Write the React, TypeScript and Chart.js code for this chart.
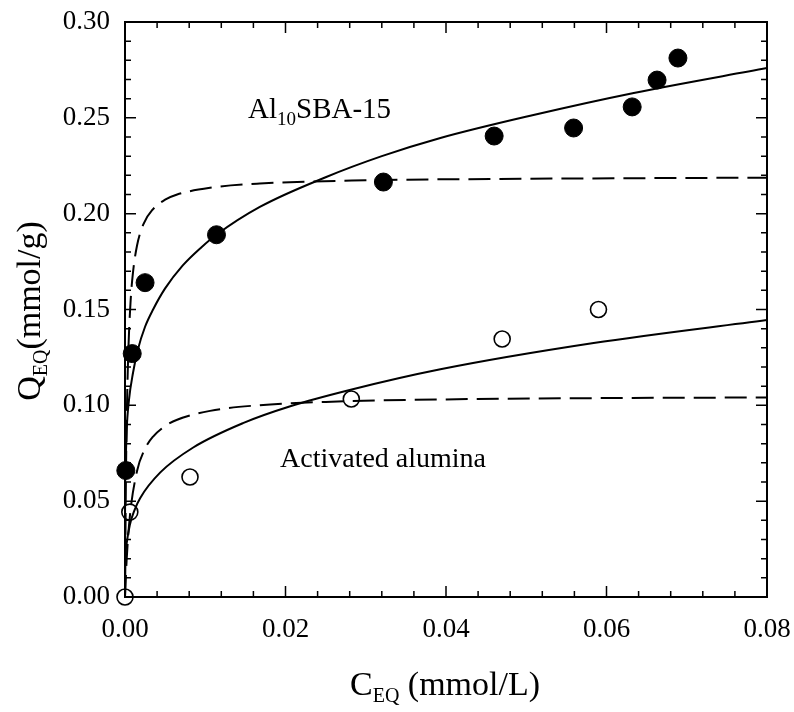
import React, { useEffect, useRef } from "react";
import { Chart, registerables } from "chart.js";

Chart.register(...registerables);

const FONT = "'Liberation Serif', 'Times New Roman', serif";

// Axis ranges and tick steps
const X_MIN = 0;
const X_MAX = 0.08;
const X_STEP = 0.004;
const Y_MIN = 0;
const Y_MAX = 0.3;
const Y_STEP = 0.01;

// Measured points: Al10SBA-15 (filled circles)
const alX = [0.0001, 0.0009, 0.0025, 0.0114, 0.0322, 0.046, 0.0559, 0.0632, 0.0663, 0.0689];
const alY = [0.066, 0.127, 0.164, 0.189, 0.2165, 0.2405, 0.2447, 0.2557, 0.2697, 0.2812];

// Measured points: Activated alumina (open circles)
const aaX = [0, 0.0006, 0.0081, 0.0282, 0.047, 0.059];
const aaY = [0, 0.0443, 0.0626, 0.1033, 0.1346, 0.15];

// Fitted curve (solid) for Al10SBA-15
const alSolidX = [0, 0.00001, 0.00005, 0.0002, 0.0005, 0.001, 0.0016, 0.0025, 0.0035, 0.005, 0.0072, 0.0095, 0.0114, 0.0168, 0.025, 0.032, 0.0393, 0.0509, 0.0634, 0.08];
const alSolidY = [0, 0.048, 0.065, 0.0865, 0.103, 0.117, 0.129, 0.141, 0.15, 0.161, 0.173, 0.1824, 0.189, 0.2035, 0.219, 0.23, 0.2395, 0.2515, 0.263, 0.276];

// Fitted curve (dashed) for Al10SBA-15
const alDashX = [0, 0.0001, 0.0002, 0.0004, 0.0007, 0.001, 0.0015, 0.0023, 0.0035, 0.005, 0.0065, 0.0106, 0.0168, 0.03, 0.05, 0.08];
const alDashY = [0, 0.0556, 0.0887, 0.1263, 0.1545, 0.1695, 0.1834, 0.1946, 0.2024, 0.2073, 0.21, 0.2135, 0.2157, 0.2174, 0.2182, 0.2188];

// Fitted curve (solid) for Activated alumina
const aaSolidX = [0, 0.00005, 0.0002, 0.0006, 0.0012, 0.0019, 0.0044, 0.0085, 0.0147, 0.0206, 0.028, 0.0393, 0.0584, 0.08];
const aaSolidY = [0, 0.019, 0.0278, 0.0376, 0.0455, 0.0517, 0.065, 0.078, 0.0907, 0.0995, 0.108, 0.1188, 0.1325, 0.1445];

// Fitted curve (dashed) for Activated alumina
const aaDashX = [0, 0.0002, 0.0006, 0.0015, 0.0025, 0.0035, 0.005, 0.0065, 0.0106, 0.0168, 0.025, 0.04, 0.06, 0.08];
const aaDashY = [0, 0.019, 0.0418, 0.0657, 0.0774, 0.0837, 0.0892, 0.0925, 0.0971, 0.1001, 0.1018, 0.1031, 0.1038, 0.1041];

const pts = (xs: number[], ys: number[]) => xs.map((x, i) => ({ x, y: ys[i] }));

type Seg = { text: string; size: number; dy?: number };

function drawRich(ctx: CanvasRenderingContext2D, segs: Seg[], x: number, y: number, align: "left" | "center", rotate = false) {
  ctx.save();
  ctx.translate(x, y);
  if (rotate) ctx.rotate(-Math.PI / 2);
  const widths = segs.map((s) => {
    ctx.font = `${s.size}px ${FONT}`;
    return ctx.measureText(s.text).width;
  });
  const total = widths.reduce((a, b) => a + b, 0);
  let cx = align === "center" ? -total / 2 : 0;
  ctx.fillStyle = "#000";
  ctx.textAlign = "left";
  ctx.textBaseline = "alphabetic";
  segs.forEach((s, i) => {
    ctx.font = `${s.size}px ${FONT}`;
    ctx.fillText(s.text, cx, s.dy || 0);
    cx += widths[i];
  });
  ctx.restore();
}

const isMajorX = (v: number) => Math.round(v * 10000) % 200 === 0;
const isMajorY = (v: number) => Math.round(v * 10000) % 500 === 0;

const framePlugin = {
  id: "frame",
  beforeDatasetsDraw(chart: any) {
    const { ctx, chartArea: a, scales } = chart;
    ctx.save();
    ctx.strokeStyle = "#000";
    ctx.lineWidth = 2;
    ctx.strokeRect(a.left, a.top, a.right - a.left, a.bottom - a.top);
    ctx.lineWidth = 1.5;
    ctx.beginPath();
    scales.x.ticks.forEach((t: any) => {
      const px = scales.x.getPixelForValue(t.value);
      const len = isMajorX(t.value) ? 11 : 6;
      ctx.moveTo(px, a.bottom);
      ctx.lineTo(px, a.bottom - len);
      ctx.moveTo(px, a.top);
      ctx.lineTo(px, a.top + len);
    });
    scales.y.ticks.forEach((t: any) => {
      const py = scales.y.getPixelForValue(t.value);
      const len = isMajorY(t.value) ? 11 : 6;
      ctx.moveTo(a.left, py);
      ctx.lineTo(a.left + len, py);
      ctx.moveTo(a.right, py);
      ctx.lineTo(a.right - len, py);
    });
    ctx.stroke();
    ctx.restore();
  },
  afterDraw(chart: any) {
    const ctx = chart.ctx;
    // Axis titles
    drawRich(ctx, [
      { text: "C", size: 34 },
      { text: "EQ", size: 20, dy: 7 },
      { text: " (mmol/L)", size: 34 },
    ], 445, 695, "center");
    drawRich(ctx, [
      { text: "Q", size: 34 },
      { text: "EQ", size: 20, dy: 7 },
      { text: "(mmol/g)", size: 34 },
    ], 40, 311, "center", true);
    // Annotations
    drawRich(ctx, [
      { text: "Al", size: 29 },
      { text: "10", size: 19, dy: 7 },
      { text: "SBA-15", size: 29 },
    ], 248, 118, "left");
    drawRich(ctx, [{ text: "Activated alumina", size: 28 }], 280, 467, "left");
  },
};

export default function App() {
  const ref = useRef<HTMLCanvasElement | null>(null);
  useEffect(() => {
    if (!ref.current) return;
    const lineDs = (xs: number[], ys: number[], dashed: boolean) => ({
      type: "line" as const,
      data: pts(xs, ys),
      borderColor: "#000",
      borderWidth: 2,
      borderDash: dashed ? [22, 9] : [],
      pointRadius: 0,
      fill: false,
      cubicInterpolationMode: "monotone" as const,
      order: 2,
    });
    const chart = new Chart(ref.current, {
      type: "scatter",
      data: {
        datasets: [
          lineDs(alSolidX, alSolidY, false),
          lineDs(alDashX, alDashY, true),
          lineDs(aaSolidX, aaSolidY, false),
          lineDs(aaDashX, aaDashY, true),
          {
            type: "scatter",
            data: pts(alX, alY),
            pointRadius: 9,
            pointBackgroundColor: "#000",
            pointBorderColor: "#000",
            pointBorderWidth: 1,
            clip: false,
            order: 1,
          } as any,
          {
            type: "scatter",
            data: pts(aaX, aaY),
            pointRadius: 8,
            pointBackgroundColor: "rgba(0,0,0,0)",
            pointBorderColor: "#000",
            pointBorderWidth: 1.6,
            clip: false,
            order: 1,
          } as any,
        ],
      },
      options: {
        animation: false,
        responsive: false,
        layout: { padding: { top: 22, right: 27, left: 0, bottom: 0 } },
        plugins: { legend: { display: false }, tooltip: { enabled: false }, title: { display: false } },
        scales: {
          x: {
            type: "linear",
            min: X_MIN,
            max: X_MAX,
            grid: { display: false, drawTicks: false },
            border: { display: false },
            ticks: {
              stepSize: X_STEP,
              autoSkip: false,
              maxRotation: 0,
              maxTicksLimit: 100,
              padding: 17,
              color: "#000",
              font: { family: FONT, size: 27 },
              callback: (v: any) => (isMajorX(Number(v)) ? Number(v).toFixed(2) : ""),
            },
            afterFit: (s: any) => {
              s.height = 115;
              s.paddingLeft = 0;
              s.paddingRight = 0;
            },
          },
          y: {
            type: "linear",
            min: Y_MIN,
            max: Y_MAX,
            grid: { display: false, drawTicks: false },
            border: { display: false },
            ticks: {
              stepSize: Y_STEP,
              autoSkip: false,
              maxTicksLimit: 100,
              padding: 15,
              color: "#000",
              font: { family: FONT, size: 27 },
              callback: (v: any) => (isMajorY(Number(v)) ? Number(v).toFixed(2) : ""),
            },
            afterFit: (s: any) => {
              s.width = 125;
              s.paddingTop = 0;
              s.paddingBottom = 0;
            },
          },
        },
      } as any,
      plugins: [framePlugin],
    });
    return () => chart.destroy();
  }, []);
  return (
    <div style={{ position: "fixed", left: 0, top: 0, width: 794, height: 712, background: "#fff" }}>
      <canvas ref={ref} width={794} height={712} style={{ width: 794, height: 712, display: "block" }} />
    </div>
  );
}
